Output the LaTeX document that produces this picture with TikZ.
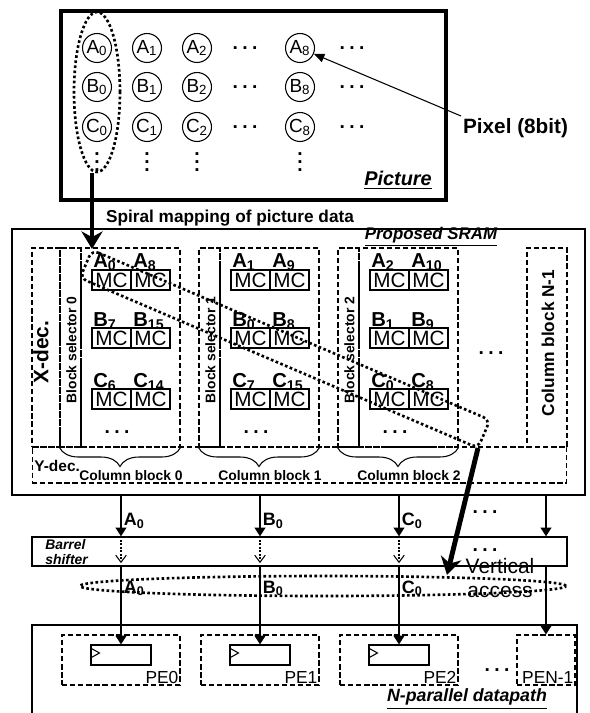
\documentclass[tikz,border=0pt]{standalone}
\usepackage{fontspec}
\setmainfont{Liberation Sans}
\usetikzlibrary{arrows.meta,shapes.geometric,decorations.pathreplacing}
\newcommand{\ix}[2]{#1\textsubscript{#2}}
\newcommand{\threedots}{.\hspace{2.5pt}.\hspace{2.5pt}.}
\newcommand{\vdts}{\vbox{\baselineskip4.8pt\lineskiplimit0pt\hbox{.}\hbox{.}\hbox{.}}}

\begin{document}
\begin{tikzpicture}[x=0.02cm,y=-0.02cm,
  pixel/.style={circle,draw,line width=0.6pt,minimum size=0.58cm,inner sep=0pt,font=\fontsize{10.8}{12}\selectfont},
  mc/.style={draw,line width=0.6pt,minimum width=0.78cm,minimum height=0.4cm,inner sep=0pt,font=\fontsize{11.8}{12}\selectfont},
  cell/.style={anchor=base west,inner sep=0pt,font=\bfseries\fontsize{11.5}{13}\selectfont},
  dashbox/.style={draw,line width=0.6pt,dash pattern=on 3pt off 1.6pt,inner sep=0pt},
  dotline/.style={line width=1.5pt,dash pattern=on 1.5pt off 1.4pt},
  arr/.style={line width=1.3pt,-{Triangle[length=5pt,width=6pt]}},
  bigarrow/.style={line width=2.8pt,-{Stealth[length=10pt,width=12pt]}},
  dots/.style={inner sep=0pt,font=\bfseries\fontsize{11}{12}\selectfont},
  lbl/.style={inner sep=1pt,font=\bfseries\fontsize{10.2}{12}\selectfont},
  title/.style={inner sep=0pt,font=\bfseries\itshape\fontsize{#1}{12}\selectfont}]
  \useasboundingbox (0,0) rectangle (589,713);

  % Picture
  \node[draw,line width=2.2pt,minimum width=7.7cm,minimum height=3.78cm] (pic) at (253.5,105.5) {};
  \foreach \r/\y in {A/48,B/87,C/127} {
    \foreach \c/\x in {0/97,1/147,2/197,8/300}
      \node[pixel] (\r\c) at (\x,\y) {\ix{\r}{\c}};
    \node[dots] (hd\r1) at (245,\y) {\threedots};
    \node[dots] (hd\r2) at (352,\y) {\threedots};
  }
  \foreach \x in {97,147,197,300}
    \node[dots] (vd\x) at (\x,162) {\vdts};
  \node[title=11.3,anchor=east] (pict) at (432,180) {\underline{Picture}};

  % Pixel label
  \node[inner sep=1pt,font=\bfseries\fontsize{11.8}{13}\selectfont,anchor=north west] (pixlbl) at (461,116) {Pixel (8bit)};
  \draw[line width=0.6pt,-{Triangle[length=6pt,width=5pt]}] (pixlbl.north west) -- (A8);

  % Column 0 and mapping arrow
  \node[ellipse,draw,dotline,minimum width=0.92cm,minimum height=3.2cm,inner sep=0pt] (col0) at (97,92) {};
  \coordinate (mapin) at (92,249);
  \draw[bigarrow] (col0.south -| mapin) -- (mapin);
  \node[inner sep=0pt,font=\bfseries\fontsize{9.8}{11}\selectfont] (maplbl) at (230,218) {Spiral mapping of picture data};

  % Proposed SRAM
  \node[draw,line width=0.7pt,minimum width=11.46cm,minimum height=5.32cm] (sram) at (298.5,362) {};
  \node[title=9.6] (sramt) at (431,237) {\underline{Proposed SRAM}};
  \node[dashbox,minimum width=10.7cm,minimum height=0.72cm] (ydec) at (299.5,465) {};
  \node[anchor=west,inner sep=0pt,font=\bfseries\fontsize{8.8}{10}\selectfont] (ydect) at (34,466) {Y-dec.};
  \node[dashbox,minimum width=0.56cm,minimum height=3.98cm] (xdec) at (46,347.5) {};
  \node[rotate=90,inner sep=0pt,font=\bfseries\fontsize{11.9}{13}\selectfont] (xdect) at (41,352) {X-dec.};

  % Column blocks
  \foreach \k/\a/\aa/\b/\bb/\c/\cc in {0/0/8/7/15/6/14,1/1/9/0/8/7/15,2/2/10/1/9/0/8} {
    \node[dashbox,minimum width=0.42cm,minimum height=3.98cm] (bs\k) at ({70.5+139*\k},347.5) {};
    \node[dashbox,minimum width=1.98cm,minimum height=3.98cm] (cb\k) at ({130.5+139*\k},347.5) {};
    \node[rotate=90,inner sep=0pt,font=\bfseries\fontsize{7.9}{9}\selectfont] (bst\k) at ({71.5+139*\k},350) {Block selector \k};
    \foreach \r/\y in {a/280,b/338,c/399} {
      \node[mc] (mc\k\r1) at ({111.5+139*\k},\y) {MC};
      \node[mc] (mc\k\r2) at ({150.5+139*\k},\y) {MC};
    }
    \node[cell] (l\k a1) at ({93+139*\k},267) {\ix{A}{\a}};
    \node[cell] (l\k a2) at ({133+139*\k},267) {\ix{A}{\aa}};
    \node[cell] (l\k b1) at ({93+139*\k},326) {\ix{B}{\b}};
    \node[cell] (l\k b2) at ({133+139*\k},326) {\ix{B}{\bb}};
    \node[cell] (l\k c1) at ({93+139*\k},387) {\ix{C}{\c}};
    \node[cell] (l\k c2) at ({133+139*\k},387) {\ix{C}{\cc}};
    \node[dots] (cbd\k) at ({117+139*\k},432) {\threedots};
    \draw[line width=0.6pt,decorate,decoration={brace,mirror,amplitude=0.38cm}] (bs\k.south west) -- (cb\k.south east);
    \node[inner sep=0pt,font=\bfseries\fontsize{7.9}{9}\selectfont] (cbt\k) at ({131+139*\k},476) {Column block \k};
  }
  \node[dots] (cbdots) at (491,353) {\threedots};
  \node[dashbox,minimum width=0.8cm,minimum height=3.98cm] (cbn) at (547,347.5) {};
  \node[rotate=90,inner sep=0pt,font=\bfseries\fontsize{9.8}{11}\selectfont] (cbnt) at (548,343) {Column block N-1};

  % Spiral path
  \draw[dotline,rounded corners=4pt] (92,250) -- (490,420) -- (478,448) -- (80,278) -- cycle;
  \coordinate (diagend) at (478,448);
  \coordinate (vahit) at (447,575);

  % Barrel shifter
  \node[draw,line width=0.7pt,minimum width=10.7cm,minimum height=0.58cm] (bsh) at (299.5,551.5) {};
  \node[anchor=west,align=left,inner sep=0pt,font=\bfseries\itshape\fontsize{7.9}{8.6}\selectfont] (bsht) at (45,552) {Barrel\\shifter};
  \node[dots] (bd1) at (485,512) {\threedots};
  \node[dots] (bd2) at (485,550) {\threedots};

  % N-parallel datapath
  \draw[line width=0.7pt] (32,716) -- (32,625) -- (577,625) -- (577,716);
  \node[title=10.1] (dpt) at (467,699) {\underline{N-parallel datapath}};
  \foreach \k in {0,1,2} {
    \node[dashbox,minimum width=2.36cm,minimum height=1cm] (pe\k) at ({121+139*\k},660) {};
    \node[draw,line width=0.6pt,minimum width=1.2cm,minimum height=0.4cm,inner sep=0pt] (reg\k) at ({121+139*\k},655) {};
    \draw[line width=0.6pt] ([yshift=-2pt]reg\k.north west) -- ++(9,5) -- ++(-9,5);
    \node[anchor=south east,inner sep=1pt,font=\fontsize{9.9}{11}\selectfont] (pet\k) at (pe\k.south east) {PE\k};
  }
  \node[dashbox,minimum width=1.16cm,minimum height=1cm] (pen) at (546,660) {};
  \node[anchor=south east,inner sep=1pt,font=\fontsize{9.9}{11}\selectfont] (pent) at (pen.south east) {PEN-1};
  \node[dots] (ped) at (497,670) {\threedots};

  % Vertical access
  \node[ellipse,draw,dotline,minimum width=9.72cm,minimum height=0.4cm,inner sep=0pt] (va) at (323,586) {};
  \node[align=center,inner sep=0pt,font=\fontsize{11.9}{14}\selectfont] (vat) at (500,578) {Vertical\\access};

  % Data paths
  \foreach \k/\v in {0/A,1/B,2/C} {
    \draw[arr] (sram.south -| reg\k) -- (bsh.north -| reg\k) node[lbl,pos=0.62,right] (up\k) {\ix{\v}{0}};
    \draw[line width=0.6pt,dash pattern=on 1pt off 1pt,-{Straight Barb[length=4pt,width=6pt]}] (bsh.north -| reg\k) -- ([yshift=2pt]bsh.south -| reg\k);
    \draw[arr] (bsh.south -| reg\k) -- (reg\k.north) node[lbl,pos=0.28,right] (dn\k) {\ix{\v}{0}};
  }
  \draw[arr] (sram.south -| pen) -- (bsh.north -| pen);
  \draw[arr] (bsh.south -| pen) -- (pen.north);
  \draw[bigarrow] (diagend) -- (vahit);
\end{tikzpicture}
\end{document}
